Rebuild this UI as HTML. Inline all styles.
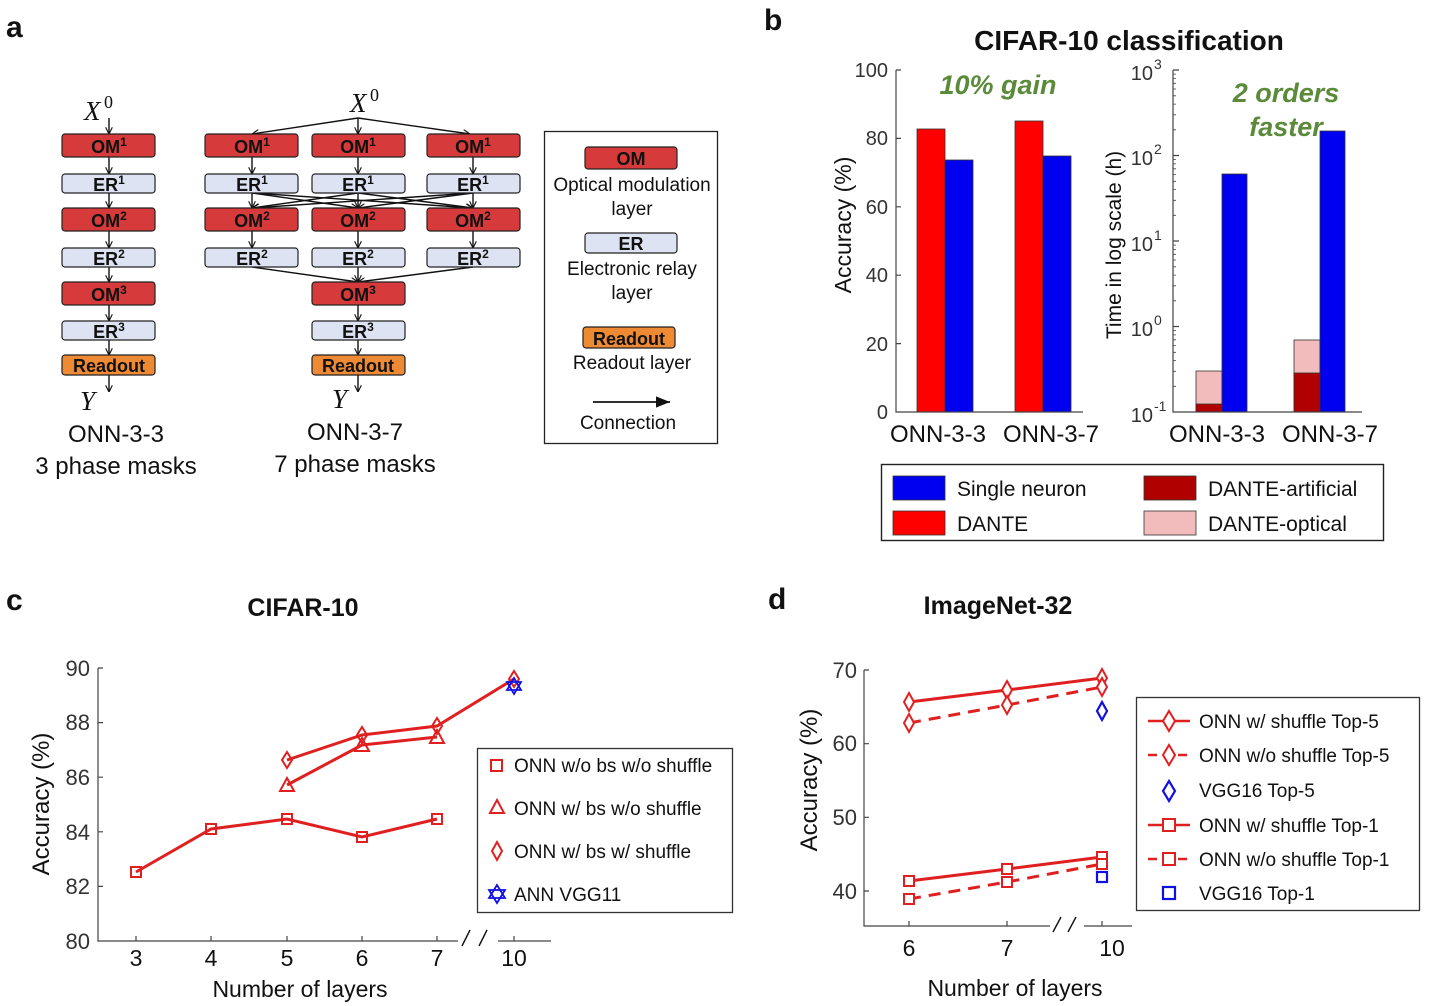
<!DOCTYPE html>
<html><head><meta charset="utf-8"><style>
html,body{margin:0;padding:0;background:#fff;}
svg{display:block;font-family:"Liberation Sans",Arial,sans-serif;}
.bx{font-weight:bold;font-size:18px;text-anchor:middle;}
</style></head><body>
<svg width="1429" height="1006" viewBox="0 0 1429 1006" xmlns="http://www.w3.org/2000/svg">
<defs>
<marker id="ar" viewBox="0 0 10 10" refX="10" refY="5" markerWidth="7" markerHeight="7" orient="auto-start-reverse" markerUnits="userSpaceOnUse"><path d="M0,0 L10,5 L0,10" fill="none" stroke="#111" stroke-width="1.6"/></marker>
<marker id="ar2" viewBox="0 0 10 10" refX="10" refY="5" markerWidth="16" markerHeight="14" orient="auto" markerUnits="userSpaceOnUse"><path d="M0,1 L10,5 L0,9 Z" fill="#111"/></marker>
</defs>
<g font-weight="bold" font-size="30" fill="#111">
<text x="6" y="37">a</text><text x="764" y="30">b</text><text x="6" y="610">c</text><text x="768" y="609">d</text>
</g>

<!-- ===== Panel a ===== -->
<g stroke="#111" stroke-width="1.4" fill="none" marker-end="url(#ar)">
<line x1="109" y1="118" x2="109" y2="134"/>
<line x1="109" y1="157" x2="109" y2="174"/>
<line x1="109" y1="193" x2="109" y2="208"/>
<line x1="109" y1="231" x2="109" y2="248"/>
<line x1="109" y1="267" x2="109" y2="282"/>
<line x1="109" y1="305" x2="109" y2="321"/>
<line x1="109" y1="340" x2="109" y2="355"/>
<line x1="109" y1="375" x2="109" y2="392"/>
<line x1="358" y1="118" x2="252" y2="134"/>
<line x1="358" y1="118" x2="358" y2="134"/>
<line x1="358" y1="118" x2="470" y2="134"/>
<line x1="252" y1="157" x2="252" y2="174"/>
<line x1="358" y1="157" x2="358" y2="174"/>
<line x1="473" y1="157" x2="473" y2="174"/>
<line x1="252" y1="193" x2="252" y2="208"/>
<line x1="252" y1="193" x2="358" y2="208"/>
<line x1="252" y1="193" x2="473" y2="208"/>
<line x1="358" y1="193" x2="252" y2="208"/>
<line x1="358" y1="193" x2="358" y2="208"/>
<line x1="358" y1="193" x2="473" y2="208"/>
<line x1="473" y1="193" x2="252" y2="208"/>
<line x1="473" y1="193" x2="358" y2="208"/>
<line x1="473" y1="193" x2="473" y2="208"/>
<line x1="252" y1="231" x2="252" y2="248"/>
<line x1="358" y1="231" x2="358" y2="248"/>
<line x1="473" y1="231" x2="473" y2="248"/>
<line x1="252" y1="267" x2="358" y2="282"/>
<line x1="358" y1="267" x2="358" y2="282"/>
<line x1="473" y1="267" x2="358" y2="282"/>
<line x1="358" y1="305" x2="358" y2="321"/>
<line x1="358" y1="340" x2="358" y2="355"/>
<line x1="358" y1="375" x2="358" y2="392"/>
</g>
<g stroke="#222" stroke-width="1.2">
<rect x="62" y="134" width="93" height="23" rx="3" fill="#d63a3a"/>
<rect x="62" y="174" width="93" height="19" rx="3" fill="#dde3f3"/>
<rect x="62" y="208" width="93" height="23" rx="3" fill="#d63a3a"/>
<rect x="62" y="248" width="93" height="19" rx="3" fill="#dde3f3"/>
<rect x="62" y="282" width="93" height="23" rx="3" fill="#d63a3a"/>
<rect x="62" y="321" width="93" height="19" rx="3" fill="#dde3f3"/>
<rect x="62" y="355" width="93" height="20" rx="3" fill="#ef8a34"/>
<rect x="205" y="134" width="93" height="23" rx="3" fill="#d63a3a"/>
<rect x="312" y="134" width="93" height="23" rx="3" fill="#d63a3a"/>
<rect x="427" y="134" width="93" height="23" rx="3" fill="#d63a3a"/>
<rect x="205" y="174" width="93" height="19" rx="3" fill="#dde3f3"/>
<rect x="312" y="174" width="93" height="19" rx="3" fill="#dde3f3"/>
<rect x="427" y="174" width="93" height="19" rx="3" fill="#dde3f3"/>
<rect x="205" y="208" width="93" height="23" rx="3" fill="#d63a3a"/>
<rect x="312" y="208" width="93" height="23" rx="3" fill="#d63a3a"/>
<rect x="427" y="208" width="93" height="23" rx="3" fill="#d63a3a"/>
<rect x="205" y="248" width="93" height="19" rx="3" fill="#dde3f3"/>
<rect x="312" y="248" width="93" height="19" rx="3" fill="#dde3f3"/>
<rect x="427" y="248" width="93" height="19" rx="3" fill="#dde3f3"/>
<rect x="312" y="282" width="93" height="23" rx="3" fill="#d63a3a"/>
<rect x="312" y="321" width="93" height="19" rx="3" fill="#dde3f3"/>
<rect x="312" y="355" width="93" height="20" rx="3" fill="#ef8a34"/>
<rect x="585" y="147" width="92" height="22" rx="3" fill="#d63a3a"/>
<rect x="585" y="233" width="92" height="20" rx="3" fill="#dde3f3"/>
<rect x="583" y="327" width="92" height="21" rx="3" fill="#ef8a34"/>
</g>
<rect x="544.5" y="131.5" width="173" height="312" fill="none" stroke="#222" stroke-width="1.3"/>
<line x1="593" y1="402" x2="670" y2="402" stroke="#111" stroke-width="1.8" marker-end="url(#ar2)"/>
<g class="bx" fill="#111">
<text x="109" y="153">OM<tspan font-size="12" dy="-7">1</tspan></text>
<text x="109" y="191">ER<tspan font-size="12" dy="-7">1</tspan></text>
<text x="109" y="227">OM<tspan font-size="12" dy="-7">2</tspan></text>
<text x="109" y="265">ER<tspan font-size="12" dy="-7">2</tspan></text>
<text x="109" y="301">OM<tspan font-size="12" dy="-7">3</tspan></text>
<text x="109" y="338">ER<tspan font-size="12" dy="-7">3</tspan></text>
<text x="109" y="372">Readout</text>
<text x="252" y="153">OM<tspan font-size="12" dy="-7">1</tspan></text>
<text x="358" y="153">OM<tspan font-size="12" dy="-7">1</tspan></text>
<text x="473" y="153">OM<tspan font-size="12" dy="-7">1</tspan></text>
<text x="252" y="191">ER<tspan font-size="12" dy="-7">1</tspan></text>
<text x="358" y="191">ER<tspan font-size="12" dy="-7">1</tspan></text>
<text x="473" y="191">ER<tspan font-size="12" dy="-7">1</tspan></text>
<text x="252" y="227">OM<tspan font-size="12" dy="-7">2</tspan></text>
<text x="358" y="227">OM<tspan font-size="12" dy="-7">2</tspan></text>
<text x="473" y="227">OM<tspan font-size="12" dy="-7">2</tspan></text>
<text x="252" y="265">ER<tspan font-size="12" dy="-7">2</tspan></text>
<text x="358" y="265">ER<tspan font-size="12" dy="-7">2</tspan></text>
<text x="473" y="265">ER<tspan font-size="12" dy="-7">2</tspan></text>
<text x="358" y="301">OM<tspan font-size="12" dy="-7">3</tspan></text>
<text x="358" y="338">ER<tspan font-size="12" dy="-7">3</tspan></text>
<text x="358" y="372">Readout</text>
<text x="631" y="165">OM</text><text x="631" y="250">ER</text><text x="629" y="345">Readout</text>
</g>
<g font-family="Liberation Serif,serif" font-style="italic" font-size="27" fill="#111">
<text x="84" y="120">X</text><text x="104" y="108" font-size="18" font-style="normal">0</text>
<text x="350" y="112">X</text><text x="370" y="101" font-size="18" font-style="normal">0</text>
<text x="80" y="410">Y</text><text x="332" y="408">Y</text>
</g>
<g font-size="24" text-anchor="middle" fill="#111">
<text x="116" y="442">ONN-3-3</text><text x="116" y="474">3 phase masks</text>
<text x="355" y="440">ONN-3-7</text><text x="355" y="472">7 phase masks</text>
</g>
<g font-size="19" text-anchor="middle" fill="#111">
<text x="632" y="191">Optical modulation</text><text x="632" y="215">layer</text>
<text x="632" y="275">Electronic relay</text><text x="632" y="299">layer</text>
<text x="632" y="369">Readout layer</text>
<text x="628" y="429">Connection</text>
</g>

<!-- ===== Panel b ===== -->
<text x="1129" y="50" font-size="28" font-weight="bold" text-anchor="middle" fill="#111">CIFAR-10 classification</text>
<g stroke="#333" stroke-width="0.8">
<rect x="917" y="129" width="28" height="283" fill="#ff0000"/>
<rect x="945" y="160" width="28" height="252" fill="#0000f0"/>
<rect x="1015" y="121" width="28" height="291" fill="#ff0000"/>
<rect x="1043" y="156" width="28" height="256" fill="#0000f0"/>
<rect x="1196" y="371" width="26" height="41" fill="#f2bcbc"/>
<rect x="1196" y="404" width="26" height="8" fill="#b00000"/>
<rect x="1222" y="174" width="25" height="238" fill="#0000f0"/>
<rect x="1294" y="340" width="26" height="72" fill="#f2bcbc"/>
<rect x="1294" y="373" width="26" height="39" fill="#b00000"/>
<rect x="1320" y="131" width="25" height="281" fill="#0000f0"/>
</g>
<g stroke="#444" stroke-width="1.2" fill="none">
<path d="M896,70 V412 H1083"/>
<path d="M896,70 h5 M896,138.4 h5 M896,206.8 h5 M896,275.2 h5 M896,343.6 h5"/>
<path d="M1173,70 V412 H1362"/>
<path d="M1173,70 h6 M1173,155.5 h6 M1173,241 h6 M1173,326.5 h6"/>
</g>
<g stroke="#444" stroke-width="0.8">
<path d="M1173,386.3h3M1173,371.3h3M1173,360.6h3M1173,352.3h3M1173,345.5h3M1173,339.8h3M1173,334.9h3M1173,330.6h3"/>
<path d="M1173,300.8h3M1173,285.8h3M1173,275.1h3M1173,266.8h3M1173,260h3M1173,254.3h3M1173,249.4h3M1173,245.1h3"/>
<path d="M1173,215.3h3M1173,200.3h3M1173,189.6h3M1173,181.3h3M1173,174.5h3M1173,168.8h3M1173,163.9h3M1173,159.6h3"/>
<path d="M1173,129.8h3M1173,114.8h3M1173,104.1h3M1173,95.8h3M1173,89h3M1173,83.3h3M1173,78.4h3M1173,74.1h3"/>
</g>
<g font-size="20" fill="#333" text-anchor="end">
<text x="888" y="77">100</text><text x="888" y="145">80</text><text x="888" y="214">60</text><text x="888" y="282">40</text><text x="888" y="351">20</text><text x="888" y="419">0</text>
<text x="1153" y="80">10</text><text x="1153" y="165">10</text><text x="1153" y="251">10</text><text x="1153" y="336">10</text><text x="1153" y="422">10</text>
</g>
<g font-size="14" fill="#333">
<text x="1154" y="69">3</text><text x="1154" y="154">2</text><text x="1154" y="240">1</text><text x="1154" y="325">0</text><text x="1154" y="411">-1</text>
</g>
<g font-size="24" fill="#111" text-anchor="middle">
<text x="938" y="442">ONN-3-3</text><text x="1051" y="442">ONN-3-7</text>
<text x="1217" y="442">ONN-3-3</text><text x="1330" y="442">ONN-3-7</text>
</g>
<text transform="translate(851,225) rotate(-90)" font-size="23" text-anchor="middle" fill="#111">Accuracy (%)</text>
<text transform="translate(1121,245) rotate(-90)" font-size="21" text-anchor="middle" fill="#111">Time in log scale (h)</text>
<g font-size="27" font-weight="bold" font-style="italic" fill="#5a8a3a" text-anchor="middle">
<text x="998" y="94">10% gain</text><text x="1286" y="102">2 orders</text><text x="1286" y="136">faster</text>
</g>
<rect x="881.5" y="464.5" width="502" height="76" fill="#fff" stroke="#222" stroke-width="1.4"/>
<g stroke="#333" stroke-width="0.8">
<rect x="893" y="476" width="52" height="24" fill="#0000f0"/>
<rect x="893" y="511" width="52" height="24" fill="#ff0000"/>
<rect x="1144" y="476" width="52" height="24" fill="#b00000"/>
<rect x="1144" y="511" width="52" height="24" fill="#f2bcbc"/>
</g>
<g font-size="21" fill="#111">
<text x="957" y="496">Single neuron</text><text x="957" y="531">DANTE</text>
<text x="1208" y="496">DANTE-artificial</text><text x="1208" y="531">DANTE-optical</text>
</g>

<!-- ===== Panel c ===== -->
<text x="303" y="616" font-size="25" font-weight="bold" text-anchor="middle" fill="#111">CIFAR-10</text>
<g stroke="#444" stroke-width="1.2" fill="none">
<path d="M98,668 V941 H551"/>
<path d="M98,668h5M98,722.6h5M98,777.2h5M98,831.8h5M98,886.4h5"/>
<path d="M136,941v-5M211,941v-5M287,941v-5M362,941v-5M437,941v-5M514,941v-5"/>
</g>
<rect x="458" y="925" width="40" height="22" fill="#fff"/>
<path d="M462,946 L470,930 M479,946 L487,930" stroke="#111" stroke-width="1.4"/>
<g font-size="22" fill="#333" text-anchor="end">
<text x="90" y="676">90</text><text x="90" y="730">88</text><text x="90" y="785">86</text><text x="90" y="840">84</text><text x="90" y="894">82</text><text x="90" y="949">80</text>
</g>
<g font-size="23" fill="#111" text-anchor="middle">
<text x="136" y="966">3</text><text x="211" y="966">4</text><text x="287" y="966">5</text><text x="362" y="966">6</text><text x="437" y="966">7</text><text x="514" y="966">10</text>
<text x="300" y="997">Number of layers</text>
</g>
<text transform="translate(49,804) rotate(-90)" font-size="24" text-anchor="middle" fill="#111">Accuracy (%)</text>
<g stroke="#e02020" stroke-width="3" fill="none">
<polyline points="136,872 211,829 287,819 362,837 437,819"/>
<polyline points="287,785 362,745 437,737"/>
<polyline points="287,760 362,735 437,726 514,679"/>
</g>
<g stroke="#e02020" stroke-width="2" fill="none">
<rect x="131" y="867" width="10" height="10"/><rect x="206" y="824" width="10" height="10"/><rect x="282" y="814" width="10" height="10"/><rect x="357" y="832" width="10" height="10"/><rect x="432" y="814" width="10" height="10"/>
<path d="M287,778 l7,13 h-14z M362,738 l7,13 h-14z M437,730 l7,13 h-14z"/>
<path d="M287,752 l5,8 l-5,8 l-5,-8z M362,727 l5,8 l-5,8 l-5,-8z M437,718 l5,8 l-5,8 l-5,-8z M514,671 l5,8 l-5,8 l-5,-8z"/>
</g>
<path d="M514,678 l7,12 h-14z M514,694 l7,-12 h-14z" stroke="#1010e0" stroke-width="1.8" fill="none"/>
<rect x="477.5" y="748.5" width="255" height="164" fill="#fff" stroke="#333" stroke-width="1.3"/>
<g stroke="#e02020" stroke-width="2" fill="none">
<rect x="491" y="760" width="11" height="11"/>
<path d="M497,800 l7,13 h-14z"/>
<path d="M497,842 l5,9 l-5,9 l-5,-9z"/>
</g>
<path d="M497,885 l8,13 h-16z M497,903 l8,-13 h-16z" stroke="#1010e0" stroke-width="1.8" fill="none"/>
<g font-size="19" fill="#111">
<text x="514" y="772">ONN w/o bs w/o shuffle</text>
<text x="514" y="815">ONN w/ bs w/o shuffle</text>
<text x="514" y="858">ONN w/ bs w/ shuffle</text>
<text x="514" y="901">ANN VGG11</text>
</g>

<!-- ===== Panel d ===== -->
<text x="998" y="614" font-size="25" font-weight="bold" text-anchor="middle" fill="#111">ImageNet-32</text>
<g stroke="#444" stroke-width="1.2" fill="none">
<path d="M864,670 V926 H1132"/>
<path d="M864,670h5M864,743.7h5M864,817.3h5M864,891h5"/>
<path d="M909,926v-5M1007,926v-5M1102,926v-5"/>
</g>
<rect x="1050" y="912" width="34" height="22" fill="#fff"/>
<path d="M1053,932 L1061,917 M1068,932 L1076,917" stroke="#111" stroke-width="1.4"/>
<g font-size="22" fill="#333" text-anchor="end">
<text x="857" y="678">70</text><text x="857" y="751">60</text><text x="857" y="825">50</text><text x="857" y="899">40</text>
</g>
<g font-size="23" fill="#111" text-anchor="middle">
<text x="909" y="956">6</text><text x="1007" y="956">7</text><text x="1112" y="956">10</text>
<text x="1015" y="996">Number of layers</text>
</g>
<text transform="translate(817,780) rotate(-90)" font-size="24" text-anchor="middle" fill="#111">Accuracy (%)</text>
<g stroke="#e02020" stroke-width="3" fill="none">
<polyline points="909,702 1007,690 1102,678"/>
<polyline points="909,881 1007,869 1102,857"/>
</g>
<g stroke="#e02020" stroke-width="3" fill="none" stroke-dasharray="12,8">
<polyline points="909,723 1007,705 1102,687"/>
<polyline points="909,899 1007,882 1102,864"/>
</g>
<g stroke="#e02020" stroke-width="2" fill="#fff">
<path d="M909,693 l5,9 l-5,9 l-5,-9z M1007,681 l5,9 l-5,9 l-5,-9z M1102,669 l5,9 l-5,9 l-5,-9z"/>
<path d="M909,714 l5,9 l-5,9 l-5,-9z M1007,696 l5,9 l-5,9 l-5,-9z M1102,678 l5,9 l-5,9 l-5,-9z"/>
<rect x="904" y="876" width="10" height="10"/><rect x="1002" y="864" width="10" height="10"/><rect x="1097" y="852" width="10" height="10"/>
<rect x="904" y="894" width="10" height="10"/><rect x="1002" y="877" width="10" height="10"/><rect x="1097" y="859" width="10" height="10"/>
</g>
<g stroke="#1010e0" stroke-width="2.2" fill="none">
<path d="M1102,702 l5,9 l-5,9 l-5,-9z"/>
<rect x="1097" y="872" width="10" height="10"/>
</g>
<rect x="1136.5" y="697.5" width="283" height="213" fill="#fff" stroke="#333" stroke-width="1.3"/>
<g stroke="#e02020" stroke-width="2.5" fill="none">
<line x1="1148" y1="721" x2="1190" y2="721"/>
<line x1="1148" y1="755" x2="1190" y2="755" stroke-dasharray="9,6"/>
<line x1="1148" y1="825" x2="1190" y2="825"/>
<line x1="1148" y1="859" x2="1190" y2="859" stroke-dasharray="9,6"/>
</g>
<g stroke="#e02020" stroke-width="2" fill="#fff">
<path d="M1169,711 l6,10 l-6,10 l-6,-10z M1169,745 l6,10 l-6,10 l-6,-10z"/>
<rect x="1163" y="819" width="12" height="12"/><rect x="1163" y="853" width="12" height="12"/>
</g>
<g stroke="#1010e0" stroke-width="2.2" fill="none">
<path d="M1169,781 l6,10 l-6,10 l-6,-10z"/>
<rect x="1163" y="887" width="12" height="12"/>
</g>
<g font-size="19" fill="#111">
<text x="1199" y="728">ONN w/ shuffle Top-5</text>
<text x="1199" y="762">ONN w/o shuffle Top-5</text>
<text x="1199" y="797">VGG16 Top-5</text>
<text x="1199" y="832">ONN w/ shuffle Top-1</text>
<text x="1199" y="866">ONN w/o shuffle Top-1</text>
<text x="1199" y="900">VGG16 Top-1</text>
</g>
</svg>
</body></html>
